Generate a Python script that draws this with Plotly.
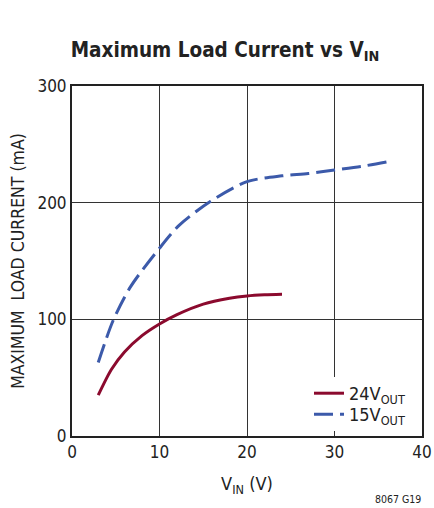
import plotly.graph_objects as go

# 24V_OUT series
x24 = [3, 4.5, 6, 8, 10, 12, 15, 18, 20, 22, 24]
y24 = [35, 57, 72, 86, 96, 104, 113, 118, 120, 121, 121.5]

# 15V_OUT series
x15 = [3, 4.7, 6.7, 10, 12.3, 15.8, 20, 24, 27, 30, 33, 36]
y15 = [63, 99, 128, 161, 181, 201, 218, 223, 225, 228, 231, 235]

xticks = [0, 10, 20, 30, 40]
yticks = [0, 100, 200, 300]

FONT = "DejaVu Sans Condensed, Liberation Sans Narrow, sans-serif"
INK = "#222"

fig = go.Figure()
fig.add_trace(go.Scatter(x=x24, y=y24, mode="lines", name="24V<sub>OUT</sub>", legend="legend",
                         line=dict(color="#8B0A2E", width=3, shape="spline", smoothing=0.8)))
fig.add_trace(go.Scatter(x=x15, y=y15, mode="lines", name="15V<sub>OUT</sub>", legend="legend2",
                         line=dict(color="#3C5AAA", width=3, shape="spline", smoothing=0.8,
                                   dash="19px,7px")))

axis_common = dict(showline=True, linecolor=INK, linewidth=2, mirror=True,
                   showgrid=True, gridcolor="#333", gridwidth=1, zeroline=False,
                   ticks="", tickfont=dict(family=FONT, size=17, color=INK))

fig.update_xaxes(range=[0, 40], tickvals=xticks, **axis_common,
                 title=dict(text="V<sub>IN</sub> (V)", font=dict(family=FONT, size=18, color=INK),
                            standoff=16))
fig.update_yaxes(range=[0, 300], tickvals=yticks, **axis_common,
                 title=dict(text="MAXIMUM  LOAD CURRENT (mA)", font=dict(family=FONT, size=17.5, color=INK),
                            standoff=8))

legend_common = dict(xanchor="left", yanchor="top", bgcolor="rgba(0,0,0,0)",
                     font=dict(family=FONT, size=18, color=INK), borderwidth=0)

fig.update_layout(
    width=434, height=508,
    margin=dict(l=72, r=12, t=86, b=72, autoexpand=False),
    paper_bgcolor="white", plot_bgcolor="white",
    title=dict(text="<b>Maximum Load Current vs V<sub>IN</sub></b>", x=225 / 434, xanchor="center",
               y=1 - 50 / 508, yanchor="middle",
               font=dict(family=FONT, size=20.5, color=INK)),
    showlegend=True,
    legend=dict(x=(309 - 72) / 350, y=(436 - 375) / 350, **legend_common),
    legend2=dict(x=(309 - 72) / 350, y=(436 - 396) / 350, **legend_common),
    shapes=[dict(type="rect", xref="paper", yref="paper",
                 x0=(298 - 72) / 350, x1=(419 - 72) / 350,
                 y0=(436 - 431) / 350, y1=(436 - 377) / 350,
                 fillcolor="white", line=dict(width=0), layer="above")],
    annotations=[dict(text="8067 G19", x=(423 - 72) / 350, y=(436 - 499) / 350,
                      xref="paper", yref="paper",
                      showarrow=False, xanchor="right", yanchor="middle",
                      font=dict(family=FONT, size=10.5, color=INK))],
)

fig.write_html("out.html", config={"displayModeBar": False},
               post_script="document.body.style.margin='0';")
